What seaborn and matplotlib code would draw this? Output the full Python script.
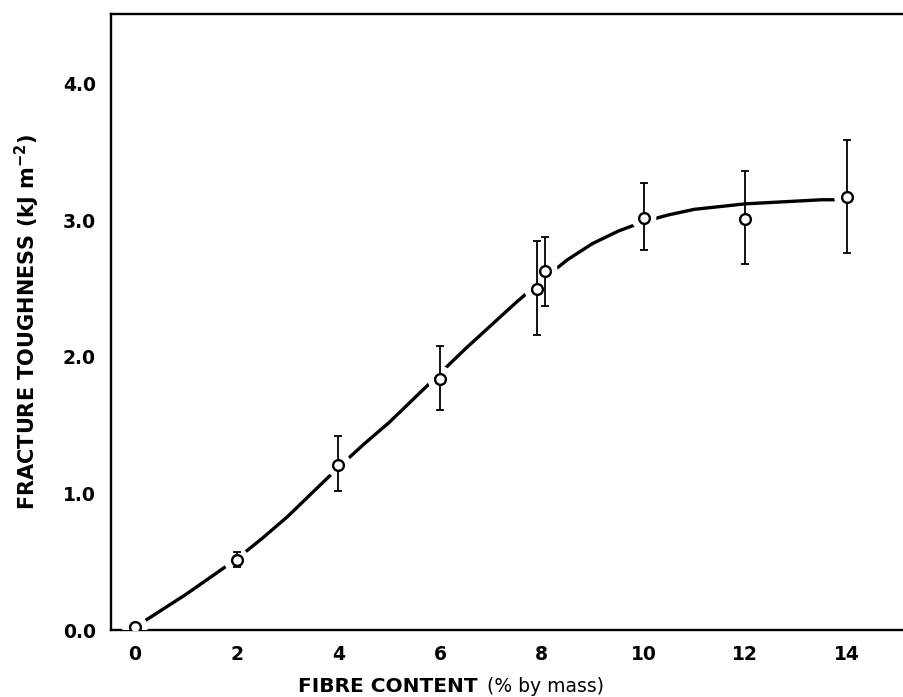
import matplotlib
matplotlib.use("Agg")
import matplotlib.pyplot as plt
import seaborn as sns
import pandas as pd

# measured points
fibre = [0, 2, 4, 6, 7.9, 8.06, 10, 12, 14]
tough = [0.02, 0.51, 1.21, 1.84, 2.50, 2.63, 3.02, 3.01, 3.17]
err_low = [0.02, 0.46, 1.02, 1.61, 2.16, 2.37, 2.78, 2.68, 2.76]
err_high = [0.02, 0.57, 1.42, 2.08, 2.85, 2.88, 3.27, 3.36, 3.59]

# fitted curve
curve_x = [0.0, 0.5, 1.0, 1.5, 2.0, 2.5, 3.0, 3.5, 4.0, 4.5, 5.0, 5.5, 6.0,
           6.5, 7.0, 7.5, 8.0, 8.5, 9.0, 9.5, 10.0, 10.5, 11.0, 11.5, 12.0,
           12.5, 13.0, 13.5, 13.9]
curve_y = [0.02, 0.14, 0.26, 0.39, 0.52, 0.67, 0.83, 1.01, 1.19, 1.36, 1.52,
           1.70, 1.88, 2.06, 2.23, 2.40, 2.56, 2.71, 2.83, 2.92, 2.99, 3.04,
           3.08, 3.10, 3.12, 3.13, 3.14, 3.15, 3.15]

x_ticks = [0, 2, 4, 6, 8, 10, 12, 14]
y_ticks = [0.0, 1.0, 2.0, 3.0, 4.0]

sns.set_style("white")
plt.rcParams["font.family"] = ["DejaVu Sans"]
plt.rcParams["mathtext.fontset"] = "dejavusans"
plt.rcParams["mathtext.default"] = "bf"
plt.rcParams["text.color"] = "black"
plt.rcParams["xtick.color"] = "black"
plt.rcParams["ytick.color"] = "black"
plt.rcParams["axes.labelcolor"] = "black"

fig = plt.figure(figsize=(9.04, 6.97), dpi=100)
ax = fig.add_axes([111/904, 67/697, 793/904, 616/697])

pts = pd.DataFrame({"x": fibre, "y": tough})
cur = pd.DataFrame({"x": curve_x, "y": curve_y})

sns.lineplot(data=cur, x="x", y="y", ax=ax, color="black", lw=2.4,
             sort=False, zorder=2)
# white halos creating gaps in the curve around each point
sns.scatterplot(data=pts, x="x", y="y", ax=ax, s=340, color="white",
                edgecolor="none", zorder=3)
lo = [t - l for t, l in zip(tough, err_low)]
hi = [h - t for t, h in zip(tough, err_high)]
ax.errorbar(fibre, tough, yerr=[lo, hi], fmt="none", ecolor="black",
            elinewidth=1.3, capsize=3.2, capthick=1.3, zorder=4)
sns.scatterplot(data=pts, x="x", y="y", ax=ax, s=60, color="white",
                edgecolor="black", linewidth=1.7, zorder=5)

ax.set_xlim(-0.47, 15.12)
ax.set_ylim(0, 4.51)
ax.set_xticks(x_ticks)
ax.set_xticklabels([str(v) for v in x_ticks])
ax.set_yticks(y_ticks)
ax.set_yticklabels([f"{v:.1f}" for v in y_ticks])
ax.tick_params(axis="both", length=0, labelsize=13.5, labelcolor="black")
ax.tick_params(axis="y", pad=11)
ax.tick_params(axis="x", pad=11)
for lab in ax.get_xticklabels() + ax.get_yticklabels():
    lab.set_fontweight("bold")

for side in ["left", "top", "bottom"]:
    ax.spines[side].set_linewidth(1.7)
    ax.spines[side].set_color("black")
ax.spines["right"].set_visible(False)
ax.set_xlabel("")
ax.set_ylabel("")

fig.text(27/904, 1 - 322/697, r"FRACTURE TOUGHNESS (kJ m$^{-2}$)",
         rotation=90, ha="center", va="center", fontsize=15,
         fontweight="bold", color="black")

t1 = fig.text(298/904, 1 - 686/697, "FIBRE CONTENT", ha="left",
              va="center", fontsize=14.5, fontweight="bold", color="black")
fig.canvas.draw()
bb = t1.get_window_extent()
fig.text((bb.x1 + 9) / 904, 1 - 686/697, "(% by mass)", ha="left",
         va="center", fontsize=13.5, color="black")

fig.savefig("out.png", dpi=100)
